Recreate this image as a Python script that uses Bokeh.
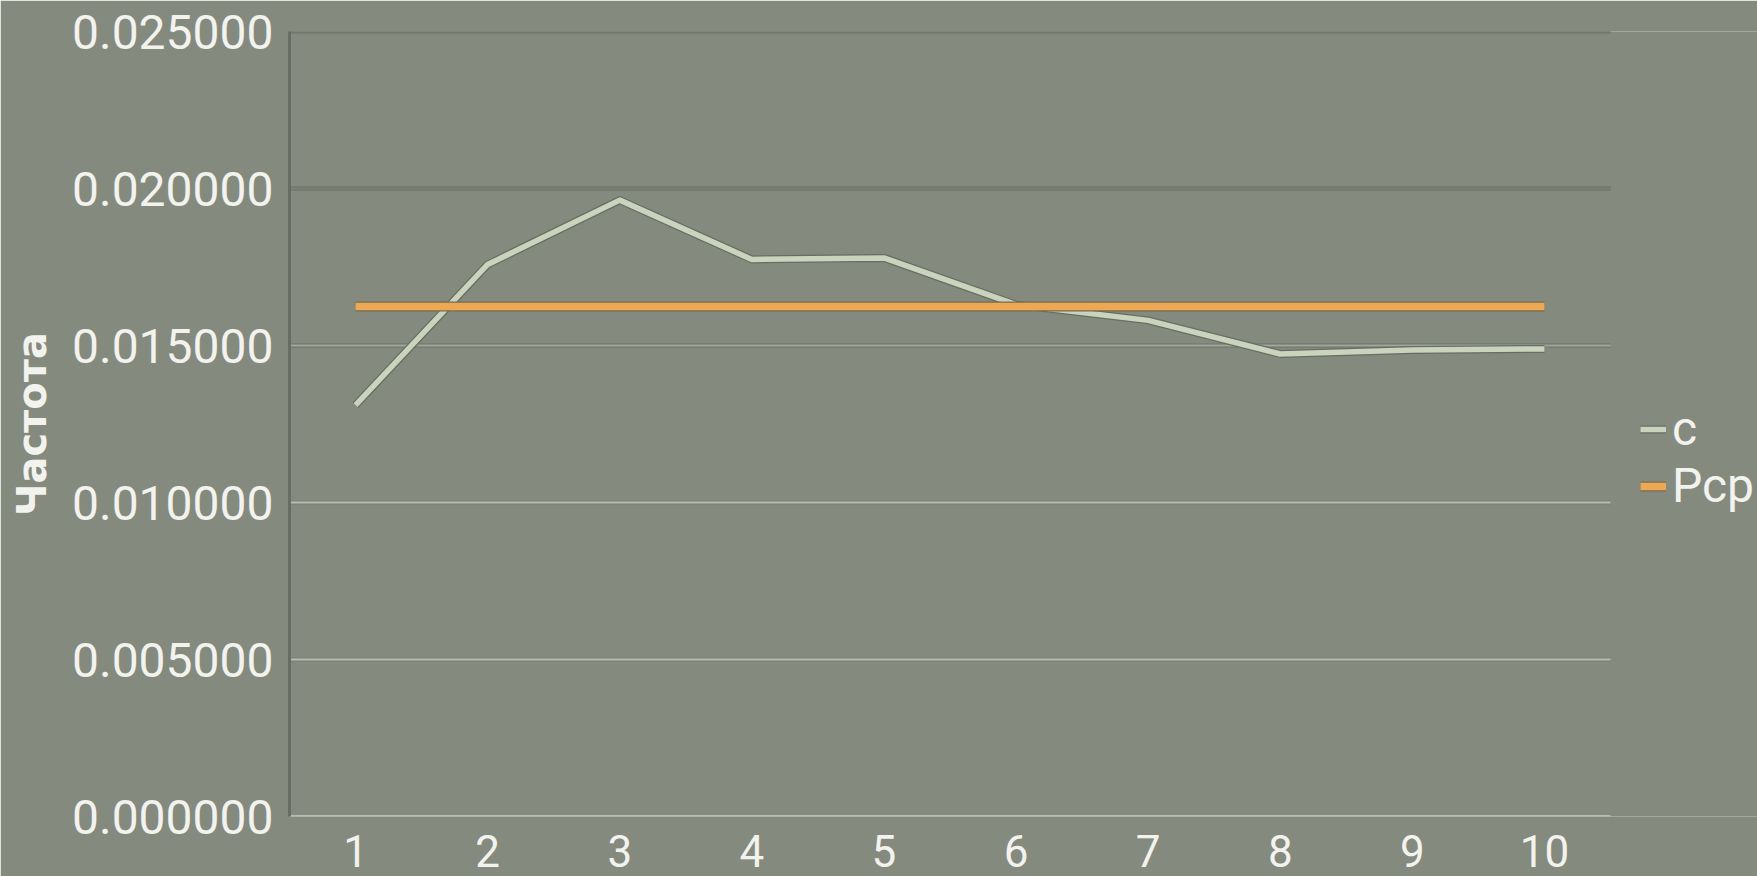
from bokeh.plotting import figure
from bokeh.models import Range1d, FixedTicker, Legend, LegendItem, ColumnDataSource, CustomJSTickFormatter
from bokeh.embed import file_html
from bokeh.resources import INLINE

categories = ["1", "2", "3", "4", "5", "6", "7", "8", "9", "10"]
c_values = [0.01310, 0.01758, 0.01963, 0.01774, 0.01779, 0.01630, 0.01580, 0.01473, 0.01486, 0.01489]
pcp_values = [0.016242] * 10
y_ticks = [0.0, 0.005, 0.010, 0.015, 0.020, 0.025]
y_label = "Частота"
series_names = ["c", "Pcp"]

BG = "#858a7e"
W, H = 1757, 876
FRAME_L, FRAME_R = 289, 1757
CAT_PX = 132.1  # pixel width of one category slot

n = len(categories)
x_pos = list(range(1, n + 1))
x_lo, x_hi = 0.5, n + 0.5
x_end = x_lo + (FRAME_R - FRAME_L) / CAT_PX

p = figure(width=W, height=H, x_range=Range1d(x_lo, x_end), y_range=Range1d(0, 0.025),
           output_backend="svg", toolbar_location=None,
           min_border_left=FRAME_L, min_border_right=0, min_border_top=31, min_border_bottom=60)
p.background_fill_color = BG
p.border_fill_color = BG
p.outline_line_color = None
p.xgrid.grid_line_color = None
p.ygrid.grid_line_color = None

# horizontal grid lines (with shadow), limited to the category span
grid_y = y_ticks[1:]
shadow_cols = ["#7a7e73", "#7a7e73", "#6f7368", "#6c7066", "#6c7066"]
light_cols = ["#b9bcb2", "#b9bcb2", "#a3a69c", "#7c8075", "#7c8075"]
gsrc = ColumnDataSource(dict(y=grid_y, x0=[x_lo] * len(grid_y), x1=[x_hi] * len(grid_y),
                             sc=shadow_cols, lc=light_cols))
p.segment("x0", "y", "x1", "y", source=gsrc, line_color="sc", line_width=4)
p.segment("x0", "y", "x1", "y", source=gsrc, line_color="lc", line_width=2)
# bottom axis line
p.segment(x0=[x_lo], y0=[0], x1=[x_hi], y1=[0], line_color="#b8bbb1", line_width=3)

src = ColumnDataSource(dict(x=x_pos, c=c_values, pcp=pcp_values))

c_under = p.line("x", "c", source=src, line_color="#686d61", line_width=8, line_join="round")
c_top = p.line("x", "c", source=src, line_color="#c9d3bd", line_width=5.5, line_join="round")
o_under = p.line("x", "pcp", source=src, line_color="#7d6a4c", line_width=10)
o_top = p.line("x", "pcp", source=src, line_color="#eca955", line_width=7.5)

# axes
p.yaxis.ticker = FixedTicker(ticks=y_ticks)
p.yaxis.formatter = CustomJSTickFormatter(code="return tick.toFixed(6);")
p.xaxis.ticker = FixedTicker(ticks=x_pos)
p.xaxis.major_label_overrides = {x: lab for x, lab in zip(x_pos, categories)}
for ax in (p.xaxis[0], p.yaxis[0]):
    ax.major_tick_line_color = None
    ax.minor_tick_line_color = None
    ax.major_label_text_font = "Roboto"
    ax.major_label_text_color = "#f2f2ee"
p.yaxis.major_label_text_font_size = "48px"
p.xaxis.major_label_text_font_size = "44px"
p.yaxis.axis_line_color = "#686c62"
p.yaxis.axis_line_width = 3
p.xaxis.axis_line_color = None
p.yaxis.major_label_standoff = 10
p.xaxis.major_label_standoff = 12
p.yaxis.axis_label = y_label
p.yaxis.axis_label_text_font = "DejaVu Sans"
p.yaxis.axis_label_text_font_style = "bold"
p.yaxis.axis_label_text_font_size = "40px"
p.yaxis.axis_label_text_color = "#f2f2ee"
p.yaxis.axis_label_standoff = 14

legend = Legend(items=[LegendItem(label=series_names[0], renderers=[c_under, c_top]),
                       LegendItem(label=series_names[1], renderers=[o_under, o_top])],
                location=(1351, 302))
legend.background_fill_alpha = 0
legend.border_line_color = None
legend.padding = 0
legend.margin = 0
legend.spacing = 0
legend.glyph_width = 26
legend.glyph_height = 56
legend.label_height = 56
legend.label_standoff = 6
legend.label_text_font = "Roboto"
legend.label_text_font_size = "48px"
legend.label_text_color = "#f2f2ee"
p.add_layout(legend, "center")

open("out.html", "w").write(file_html(p, INLINE))
